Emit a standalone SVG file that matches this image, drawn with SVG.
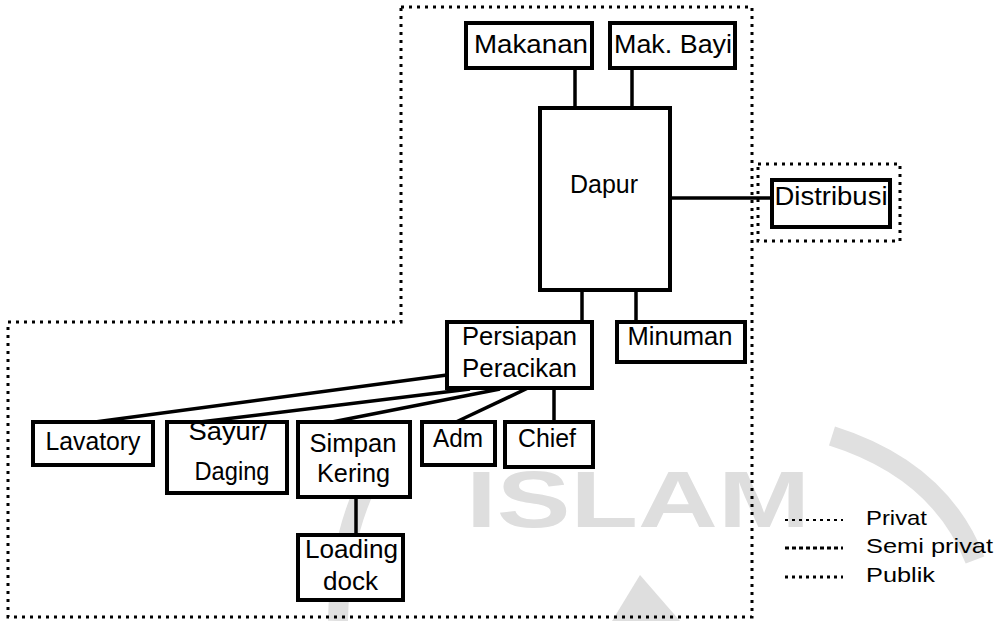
<svg xmlns="http://www.w3.org/2000/svg" width="996" height="621" viewBox="0 0 996 621">
<style>
.box{fill:#fff;stroke:#000;stroke-width:4}
.t{font-family:"Liberation Sans",Arial,sans-serif;font-size:25.5px;fill:#000;text-anchor:middle}
.lg{font-family:"Liberation Sans",Arial,sans-serif;font-size:21px;fill:#000}
.zone{fill:none;stroke:#000;stroke-width:3;stroke-dasharray:3 5}
.conn line{stroke:#000;stroke-width:3.5;stroke-linecap:butt}
.wm{fill:#dedede}
.wmb{fill:none;stroke:#e0e0e0;stroke-width:20}
</style>
<rect width="996" height="621" fill="#fff"/>
<g id="watermark">
<path class="wmb" d="M402 432 Q340 500 338 621"/>
<path class="wmb" d="M832 436 Q940 470 975 560"/>
<polygon class="wm" points="640,575 612,621 680,621"/>
<text x="466" y="527" font-family="Liberation Sans,Arial,sans-serif" font-weight="bold" font-size="80" textLength="344" lengthAdjust="spacingAndGlyphs" class="wm">ISLAM</text>
</g>
<g id="zones">
<path class="zone" d="M401 7 L752 7 L752 617 L8 617 L8 322 L401 322 Z"/>
<rect class="zone" x="758" y="164" width="142" height="77"/>
</g>
<g id="connectors" class="conn">
<line x1="575" y1="68" x2="575" y2="108"/>
<line x1="632" y1="68" x2="632" y2="108"/>
<line x1="670" y1="198" x2="772" y2="198"/>
<line x1="582" y1="290" x2="582" y2="322"/>
<line x1="636" y1="290" x2="636" y2="322"/>
<line x1="447" y1="375" x2="95" y2="422"/>
<line x1="470" y1="389" x2="200" y2="422"/>
<line x1="500" y1="389" x2="332" y2="422"/>
<line x1="528" y1="388" x2="456" y2="422"/>
<line x1="554" y1="388" x2="554" y2="422"/>
<line x1="356" y1="498" x2="356" y2="535"/>
</g>
<g id="makanan"><rect class="box" x="466" y="23" width="126" height="45"/><text class="t" x="531" y="53" textLength="114" lengthAdjust="spacingAndGlyphs">Makanan</text></g>
<g id="makbayi"><rect class="box" x="610" y="23" width="125" height="45"/><text class="t" x="673" y="53" textLength="118" lengthAdjust="spacingAndGlyphs">Mak. Bayi</text></g>
<g id="dapur"><rect class="box" x="540" y="108" width="130" height="182"/><text class="t" x="604" y="193" textLength="68" lengthAdjust="spacingAndGlyphs">Dapur</text></g>
<g id="distribusi"><rect class="box" x="772" y="180" width="118" height="47"/><text class="t" x="831" y="205" textLength="113" lengthAdjust="spacingAndGlyphs">Distribusi</text></g>
<g id="persiapan"><rect class="box" x="447" y="322" width="145" height="66"/><text class="t" x="519.5" y="345" textLength="115" lengthAdjust="spacingAndGlyphs">Persiapan</text><text class="t" x="519.5" y="377" textLength="115" lengthAdjust="spacingAndGlyphs">Peracikan</text></g>
<g id="minuman"><rect class="box" x="617" y="322" width="128" height="40"/><text class="t" x="680" y="345" textLength="105" lengthAdjust="spacingAndGlyphs">Minuman</text></g>
<g id="lavatory"><rect class="box" x="33" y="422" width="120" height="43"/><text class="t" x="93" y="450" textLength="95" lengthAdjust="spacingAndGlyphs">Lavatory</text></g>
<g id="sayur"><rect class="box" x="167" y="422" width="120" height="71"/><text class="t" x="228" y="440" textLength="79" lengthAdjust="spacingAndGlyphs">Sayur/</text><text class="t" x="232" y="480" textLength="75" lengthAdjust="spacingAndGlyphs">Daging</text></g>
<g id="simpan"><rect class="box" x="298" y="422" width="112" height="75"/><text class="t" x="353" y="452" textLength="87" lengthAdjust="spacingAndGlyphs">Simpan</text><text class="t" x="353.5" y="482" textLength="73" lengthAdjust="spacingAndGlyphs">Kering</text></g>
<g id="adm"><rect class="box" x="422" y="422" width="73" height="43"/><text class="t" x="458" y="447" textLength="50" lengthAdjust="spacingAndGlyphs">Adm</text></g>
<g id="chief"><rect class="box" x="505" y="422" width="88" height="45"/><text class="t" x="547" y="447" textLength="58" lengthAdjust="spacingAndGlyphs">Chief</text></g>
<g id="loading"><rect class="box" x="298" y="535" width="105" height="65"/><text class="t" x="351.5" y="558" textLength="93" lengthAdjust="spacingAndGlyphs">Loading</text><text class="t" x="350.5" y="590" textLength="55" lengthAdjust="spacingAndGlyphs">dock</text></g>
<g id="legend">
<line x1="785" y1="520" x2="843" y2="520" stroke="#000" stroke-width="2" stroke-dasharray="3 4"/>
<line x1="785" y1="548" x2="843" y2="548" stroke="#000" stroke-width="3" stroke-dasharray="4 3"/>
<line x1="785" y1="577" x2="843" y2="577" stroke="#000" stroke-width="3" stroke-dasharray="3 4"/>
<text class="lg" x="866" y="525" textLength="61" lengthAdjust="spacingAndGlyphs">Privat</text>
<text class="lg" x="866" y="553" textLength="127" lengthAdjust="spacingAndGlyphs">Semi privat</text>
<text class="lg" x="866" y="582" textLength="69" lengthAdjust="spacingAndGlyphs">Publik</text>
</g>
</svg>
